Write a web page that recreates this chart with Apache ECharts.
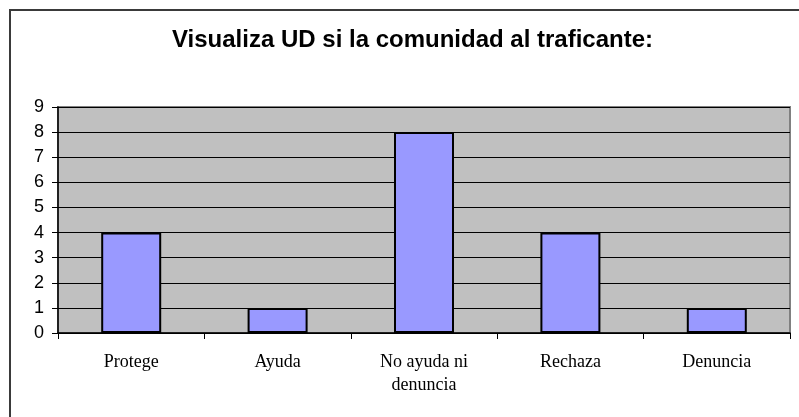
<!DOCTYPE html>
<html>
<head>
<meta charset="utf-8">
<script src="https://cdn.jsdelivr.net/npm/echarts@6/dist/echarts.min.js"></script>
<style>
html, body { margin: 0; padding: 0; background: #fff; }
#chart { width: 799px; height: 417px; }
</style>
</head>
<body>
<div id="chart"></div>
<script>
// Chart data
const titleText = 'Visualiza UD si la comunidad al traficante:';
const categories = ['Protege', 'Ayuda', 'No ayuda ni\ndenuncia', 'Rechaza', 'Denuncia'];
const counts = [4, 1, 8, 4, 1];
const yTicks = { min: 0, max: 9, interval: 1 };

const chart = echarts.init(document.getElementById('chart'), null, { renderer: 'canvas' });

chart.setOption({
  animation: false,
  backgroundColor: '#ffffff',
  title: {
    text: titleText,
    left: 167,
    top: 23,
    textStyle: {
      fontFamily: 'Liberation Sans, Arial, sans-serif',
      fontWeight: 'bold',
      fontSize: 24,
      color: '#000'
    }
  },
  graphic: [{
    type: 'rect',
    shape: { x: 10, y: 10, width: 820, height: 440 },
    style: { fill: 'none', stroke: '#3a3a3a', lineWidth: 2 },
    silent: true,
    z: -10
  }],
  grid: {
    left: 58,
    top: 107,
    right: 9,
    bottom: 84,
    show: true,
    backgroundColor: '#c0c0c0',
    borderColor: '#808080',
    borderWidth: 2
  },
  xAxis: {
    type: 'category',
    data: categories,
    axisLine: { show: true, lineStyle: { color: '#000', width: 1.5 } },
    axisTick: { show: true, interval: 0, alignWithLabel: false, length: 6, lineStyle: { color: '#000' } },
    axisLabel: {
      interval: 0,
      margin: 18,
      fontFamily: 'Liberation Serif, Times New Roman, serif',
      fontSize: 18,
      lineHeight: 23,
      color: '#000'
    },
    splitLine: { show: false }
  },
  yAxis: {
    type: 'value',
    min: yTicks.min,
    max: yTicks.max,
    interval: yTicks.interval,
    axisLine: { show: true, lineStyle: { color: '#000', width: 1.5 } },
    axisTick: { show: true, length: 6, lineStyle: { color: '#000' } },
    axisLabel: {
      margin: 14,
      fontFamily: 'Liberation Sans, Arial, sans-serif',
      fontSize: 18,
      color: '#000'
    },
    splitLine: { show: true, lineStyle: { color: '#000', width: 1 } }
  },
  series: [{
    type: 'bar',
    data: counts,
    barWidth: 60,
    itemStyle: {
      color: '#9999ff',
      borderColor: '#000',
      borderWidth: 2
    }
  }]
});
</script>
</body>
</html>
